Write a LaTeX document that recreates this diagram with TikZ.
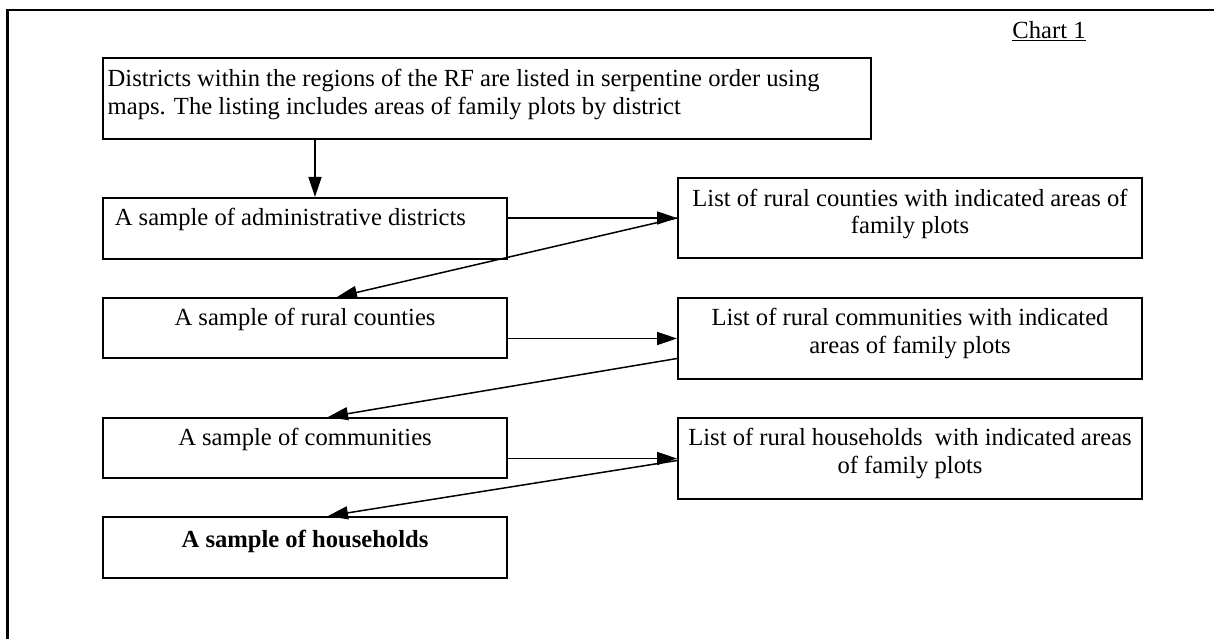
\documentclass[tikz,border=0pt]{standalone}
\usepackage{fontspec}
\setmainfont{Liberation Serif}
\usetikzlibrary{arrows.meta,calc}
\tikzset{
  box/.style={draw=black, line width=2pt, rectangle, inner sep=0pt, anchor=center},
  txt/.style={inner sep=0pt, font=\fontsize{24.6}{28}\selectfont},
  arr/.style={draw=black, line width=1.5pt, -{Triangle[length=20pt,width=13pt]}},
  frame/.style={draw=black, line width=2.4pt}
}
\begin{document}
\begin{tikzpicture}[x=1pt,y=-1pt]
\useasboundingbox (0,0) rectangle (1214,639);
\clip (0,0) rectangle (1214,639);
% outer frame (only top and left edges visible)
\draw[frame] (1230,10) -- (7.5,10) -- (7.5,660);
% chart label
\node[txt, anchor=base] (chart) at (1049,39) {\underline{Chart 1}};
% boxes
\node[box, minimum width=768pt, minimum height=80.5pt] (T) at (487,98.75) {};
\node[box, minimum width=404pt, minimum height=61pt] (A1) at (305,228.5) {};
\node[box, minimum width=464pt, minimum height=80pt] (L1) at (910,218) {};
\node[box, minimum width=404pt, minimum height=60pt] (A2) at (305,328) {};
\node[box, minimum width=464pt, minimum height=81pt] (L2) at (910,338.5) {};
\node[box, minimum width=404pt, minimum height=60pt] (A3) at (305,448) {};
\node[box, minimum width=464pt, minimum height=81pt] (L3) at (910,458.5) {};
\node[box, minimum width=404pt, minimum height=61pt] (A4) at (305,547.5) {};
% texts
\node[txt, anchor=base west] (t1) at (107.5,87) {Districts within the regions of the RF are listed in serpentine order using};
\node[txt, anchor=base west] (t2) at (107.5,115) {maps. The listing includes areas of family plots by district};
\node[txt, anchor=base west] (a1t) at (114.6,225) {A sample of administrative districts};
\node[txt, anchor=base] (l1a) at (910,206) {List of rural counties with indicated areas of};
\node[txt, anchor=base] (l1b) at (910,233) {family plots};
\node[txt, anchor=base] (a2t) at (305,325) {A sample of rural counties};
\node[txt, anchor=base] (l2a) at (910,325) {List of rural communities with indicated};
\node[txt, anchor=base] (l2b) at (910,353) {areas of family plots};
\node[txt, anchor=base] (a3t) at (305,445) {A sample of communities};
\node[txt, anchor=base] (l3a) at (910,445) {List of rural households\ \ with indicated areas};
\node[txt, anchor=base] (l3b) at (910,473) {of family plots};
\node[txt, anchor=base] (a4t) at (305,547) {\textbf{A sample of households}};
% connectors
\coordinate (a1top) at ($(A1.north)+(10,0)$);
\draw[arr] (a1top |- T.south) -- (a1top);
\draw[arr] (A1.east |- L1.west) -- (L1.west);
\draw[arr] (L1.west) -- ($(A2.north)+(32,0)$);
\draw[arr] (A2.east |- L2.west) -- (L2.west);
\draw[arr] ($(L2.west)+(0,20)$) -- ($(A3.north)+(23,0)$);
\draw[arr] (A3.east |- L3.west) -- (L3.west);
\draw[arr] ($(L3.west)+(0,2)$) -- ($(A4.north)+(23,0)$);
\end{tikzpicture}
\end{document}
